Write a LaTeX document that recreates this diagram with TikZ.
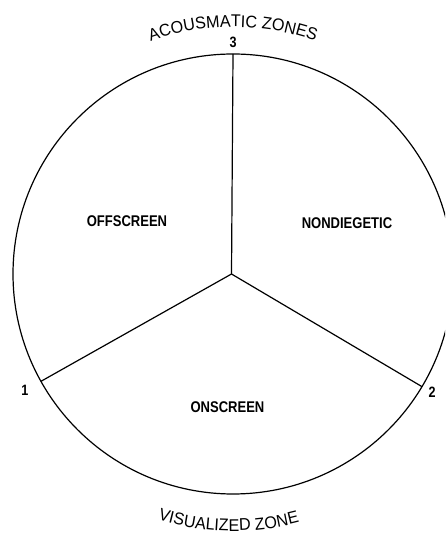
\documentclass[tikz,border=0pt]{standalone}
\usepackage{fontspec}
\setmainfont{Liberation Sans}
\newfontfamily\labfont[FakeStretch=0.84]{Liberation Sans}
\newfontfamily\arcfont[FakeStretch=0.95]{Liberation Sans}
\usetikzlibrary{decorations.text}
\begin{document}
\begin{tikzpicture}[x=1pt,y=1pt,line width=1.2pt,
  zonelabel/.style={font=\labfont\bfseries\fontsize{15.5}{15.5}\selectfont,inner sep=0pt},
  numlabel/.style={font=\labfont\bfseries\fontsize{15}{15}\selectfont,inner sep=0pt}]
\useasboundingbox (0,0) rectangle (445,534);
\clip (0,0) rectangle (445,534);
\coordinate (C) at (233,260);
\coordinate (H) at (231.5,260);
\coordinate (T) at (233,480);
\path (C) ++(209.2:220) coordinate (P1);
\path (C) ++(329.2:220) coordinate (P2);
\draw (C) circle[radius=220];
\draw (H) -- (T);
\draw (H) -- (P1);
\draw (H) -- (P2);
\node[zonelabel] (off) at (127,313) {OFFSCREEN};
\node[zonelabel] (non) at (347,311) {NONDIEGETIC};
\node[zonelabel] (on) at (227.5,127) {ONSCREEN};
\node[numlabel] (n3) at (233,492) {3};
\node[numlabel] (n1) at (25,144) {1};
\node[numlabel] (n2) at (432,142) {2};
\path[decorate,decoration={text along path,text align=center,
  text={|\arcfont\fontsize{17}{17}\selectfont|ACOUSMATIC ZONES}}]
  (C) ++(125:247) arc[start angle=125,end angle=55,radius=247];
\path[decorate,decoration={text along path,text align=center,
  text={|\arcfont\fontsize{17}{17}\selectfont|VISUALIZED ZONE}}]
  (C) ++(229:257) arc[start angle=229,end angle=309,radius=257];
\end{tikzpicture}
\end{document}
